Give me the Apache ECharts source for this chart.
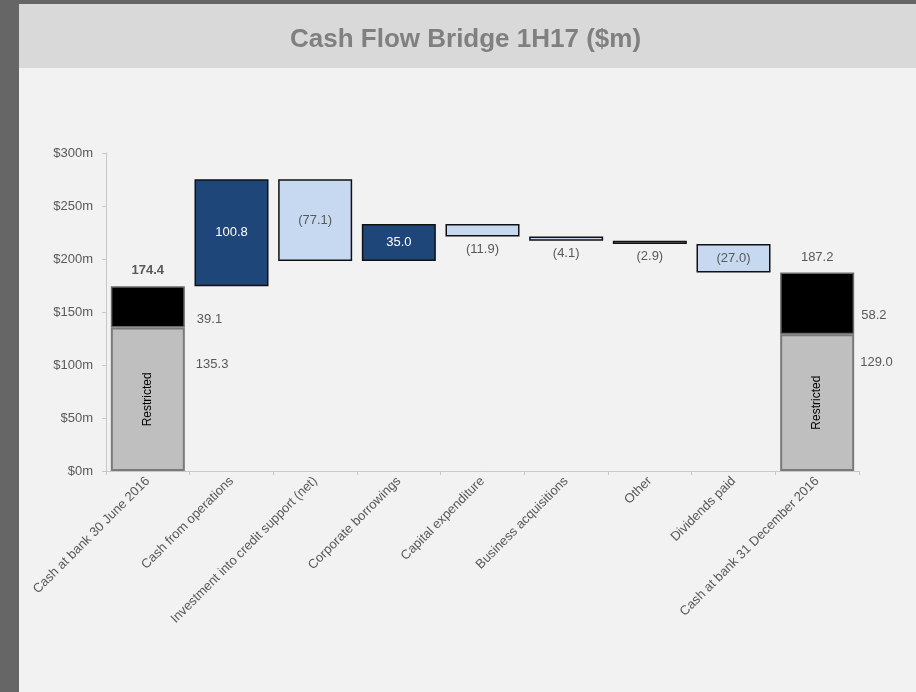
<!DOCTYPE html>
<html lang="en">
<head>
    <meta charset="UTF-8">
    <title>Cash Flow Bridge 1H17</title>
    <script src="https://cdn.jsdelivr.net/npm/echarts@6/dist/echarts.min.js"></script>
    <style>
        html, body { margin: 0; padding: 0; background: #666666; }
        #chartmain { width: 916px; height: 692px; }
    </style>
</head>
<body>
<div id="chartmain"></div>
<script>
    // chart data
    var categories = ['Cash at bank 30 June 2016', 'Cash from operations', 'Investment into credit support (net)',
        'Corporate borrowings', 'Capital expenditure', 'Business acquisitions', 'Other', 'Dividends paid',
        'Cash at bank 31 December 2016'];
    var restricted = [135.3, null, null, null, null, null, null, null, 129.0];
    var unrestricted = [39.1, null, null, null, null, null, null, null, 58.2];
    var changes = [null, 100.8, -77.1, 35.0, -11.9, -4.1, -2.9, -27.0, null];
    var yTicks = [0, 50, 100, 150, 200, 250, 300];

    // build the floating bars from the running total
    var base = [], ups = [], downs = [], totals = [];
    var running = 0;
    for (var i = 0; i < categories.length; i++) {
        if (changes[i] === null) {
            running = restricted[i] + unrestricted[i];
            base.push(0); ups.push('-'); downs.push('-');
            totals.push(Math.round(running * 10) / 10);
        } else {
            var next = running + changes[i];
            base.push(Math.min(running, next));
            if (changes[i] >= 0) { ups.push(changes[i]); downs.push('-'); }
            else { downs.push(-changes[i]); ups.push('-'); }
            running = next;
            totals.push('-');
        }
    }

    var labelGrey = '#595959';
    var fontName = '"Liberation Sans", Arial, sans-serif';

    // value labels that differ between the bars
    var downLabels = {2: 'inside', 4: 'bottom', 5: 'bottom', 6: 'bottom', 7: 'inside'};
    var downData = downs.map(function (v, i) {
        if (v === '-') return v;
        return {value: v, label: {position: downLabels[i]}};
    });
    var totalData = totals.map(function (v, i) {
        if (v === '-') return v;
        return {value: v, label: {fontWeight: i === 0 ? 'bold' : 'normal'}};
    });
    var blackOffsets = {0: [12, 13], 8: [7, 12]};
    var blackData = unrestricted.map(function (v, i) {
        if (v === null) return '-';
        return {value: v, label: {offset: blackOffsets[i]}};
    });
    var greyOffsets = {0: [48, 37], 8: [43, 28]};
    var restrictedMarks = restricted.map(function (v, i) {
        if (v === null) return '-';
        return {value: v, label: {offset: greyOffsets[i]}};
    });

    var option = {
        backgroundColor: '#666666',
        animation: false,
        textStyle: {fontFamily: fontName},
        graphic: [
            {type: 'rect', shape: {x: 19, y: 68, width: 897, height: 624}, style: {fill: '#f2f2f2'}, z: -10},
            {type: 'rect', shape: {x: 19, y: 4, width: 897, height: 64}, style: {fill: '#d9d9d9'}, z: -10}
        ],
        title: {
            text: 'Cash Flow Bridge 1H17 ($m)',
            left: 285,
            top: 22,
            textStyle: {color: '#808080', fontSize: 26, fontWeight: 'bold', fontFamily: fontName}
        },
        grid: {left: 106, right: 57, top: 153, bottom: 221},
        xAxis: {
            type: 'category',
            data: categories,
            axisLine: {lineStyle: {color: '#c8c8c8', width: 1}},
            axisTick: {show: true, alignWithLabel: false, length: 4, lineStyle: {color: '#c8c8c8'}},
            axisLabel: {rotate: 45, color: labelGrey, fontSize: 13, margin: 8, interval: 0, fontFamily: fontName}
        },
        yAxis: {
            type: 'value',
            min: yTicks[0],
            max: yTicks[yTicks.length - 1],
            interval: 50,
            axisLine: {show: true, lineStyle: {color: '#c8c8c8'}},
            axisTick: {show: true, length: 4, lineStyle: {color: '#c8c8c8'}},
            splitLine: {show: false},
            axisLabel: {color: labelGrey, fontSize: 13, margin: 13, fontFamily: fontName,
                formatter: function (v) { return '$' + v + 'm'; }}
        },
        series: [
            {
                name: 'base', type: 'bar', stack: 'w', barWidth: 74, data: base,
                itemStyle: {color: 'transparent'}, silent: true
            },
            {
                name: 'Restricted', type: 'bar', stack: 'w', barWidth: 74,
                data: restricted.map(function (v) { return v === null ? '-' : v; }),
                itemStyle: {color: '#bfbfbf', borderColor: '#7a7a7a', borderWidth: 2},
                label: {show: true, position: 'inside', rotate: 90, color: '#000', fontSize: 12,
                    formatter: 'Restricted'}
            },
            {
                name: 'Unrestricted', type: 'bar', stack: 'w', barWidth: 74, data: blackData,
                itemStyle: {color: '#000000', borderColor: '#6a6a6a', borderWidth: 1.5},
                label: {show: true, position: 'right', distance: 0, color: labelGrey, fontSize: 13,
                    formatter: function (p) { return p.value.toFixed(1); }}
            },
            {
                name: 'Increase', type: 'bar', stack: 'w', barWidth: 74, data: ups,
                itemStyle: {color: '#1f4678', borderColor: '#111111', borderWidth: 1.5},
                label: {show: true, position: 'inside', color: '#ffffff', fontSize: 13,
                    formatter: function (p) { return p.value.toFixed(1); }}
            },
            {
                name: 'Decrease', type: 'bar', stack: 'w', barWidth: 74, data: downData,
                itemStyle: {color: '#c6d9f0', borderColor: '#111111', borderWidth: 1.5},
                label: {show: true, color: labelGrey, fontSize: 13, distance: 6,
                    formatter: function (p) { return '(' + p.value.toFixed(1) + ')'; }}
            },
            {
                name: 'totals', type: 'scatter', data: totalData, symbolSize: 0,
                itemStyle: {opacity: 1, color: 'transparent'},
                label: {show: true, position: 'top', distance: 9, color: labelGrey, fontSize: 13,
                    formatter: function (p) { return p.value.toFixed(1); }}
            },
            {
                name: 'restrictedAmount', type: 'scatter', data: restrictedMarks, symbolSize: 0,
                itemStyle: {opacity: 1, color: 'transparent'},
                label: {show: true, position: 'right', distance: 0, color: labelGrey, fontSize: 13,
                    formatter: function (p) { return p.value.toFixed(1); }}
            }
        ]
    };

    var myChart = echarts.init(document.getElementById('chartmain'));
    myChart.setOption(option);
</script>
</body>
</html>
